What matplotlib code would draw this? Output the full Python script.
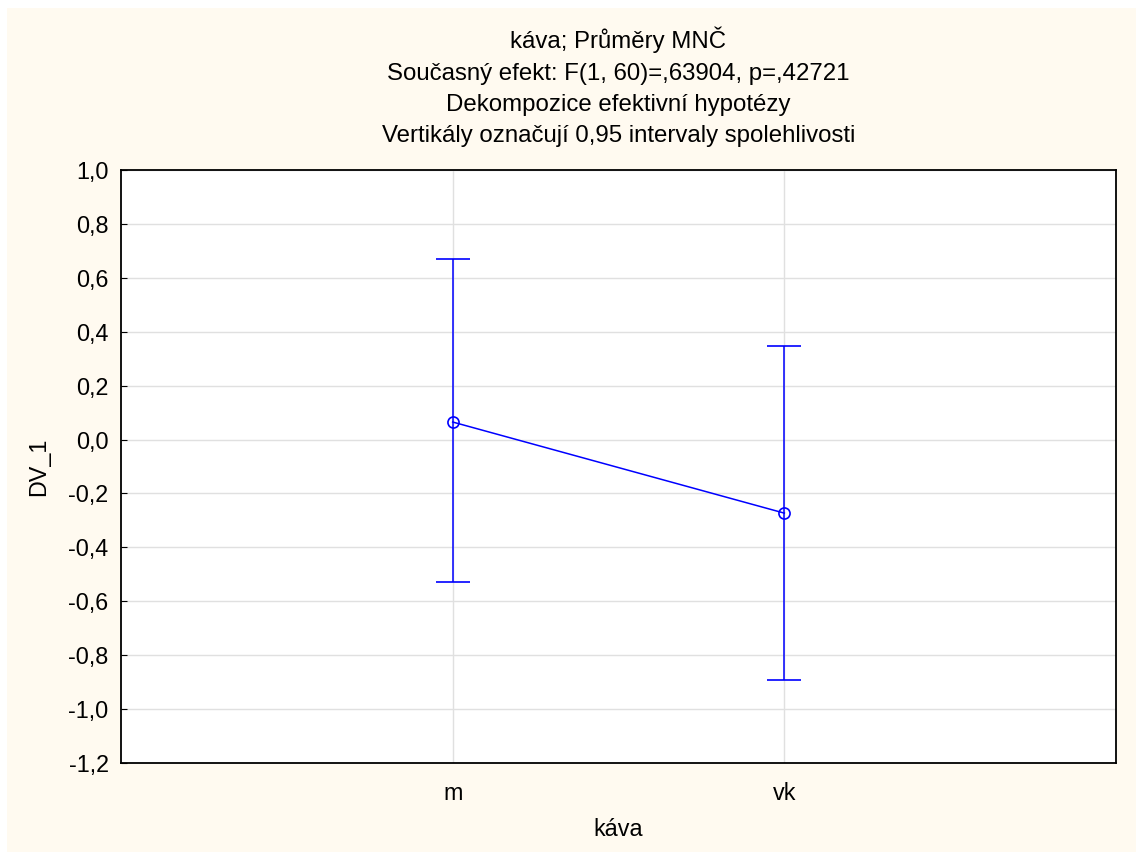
import matplotlib.pyplot as plt
from matplotlib.patches import Rectangle
from matplotlib.ticker import FuncFormatter, MultipleLocator

plt.rcParams['font.family'] = ['Liberation Sans', 'DejaVu Sans']

# data
kategorie = ['m', 'vk']
prumery = [0.065, -0.273]
horni = [0.670, 0.347]
dolni = [-0.529, -0.892]

nazev = ('káva; Průměry MNČ\n'
         'Současný efekt: F(1, 60)=,63904, p=,42721\n'
         'Dekompozice efektivní hypotézy\n'
         'Vertikály označují 0,95 intervaly spolehlivosti')

fig = plt.figure(figsize=(11.36, 8.52), dpi=100, facecolor='white')
fig.patches.append(Rectangle((7 / 1136, 0), 1, 1 - 8 / 852,
                             transform=fig.transFigure, facecolor='#fffaf0',
                             edgecolor='none', zorder=-10))
ax = fig.add_axes([121 / 1136, 1 - 763 / 852, 995 / 1136, 593 / 852])
ax.set_facecolor('white')

x = list(range(len(kategorie)))
chyba_dol = [p - d for p, d in zip(prumery, dolni)]
chyba_hor = [h - p for p, h in zip(prumery, horni)]
ax.errorbar(x, prumery, yerr=[chyba_dol, chyba_hor], color='#0000ff',
            linewidth=1.1, elinewidth=1.1, capsize=12, capthick=1.1,
            marker='o', markersize=8, markerfacecolor='none',
            markeredgecolor='#0000ff', markeredgewidth=1.2, zorder=3)

ax.set_xlim(-1, 2)
ax.set_ylim(-1.2, 1.0)
ax.set_xticks(x)
ax.set_xticklabels(kategorie)
ax.yaxis.set_major_locator(MultipleLocator(0.2))
ax.yaxis.set_major_formatter(FuncFormatter(lambda v, p: f'{v:.1f}'.replace('.', ',').replace('-0,0', '0,0')))

ax.grid(True, color='#e0e0e0', linewidth=1)
ax.set_axisbelow(True)
for s in ax.spines.values():
    s.set_linewidth(1.3)
ax.tick_params(axis='both', direction='in', length=4, labelsize=16.8, pad=9)
ax.tick_params(axis='x', length=0, pad=14)

ax.set_xlabel('káva', fontsize=16.8, labelpad=9)
ax.set_ylabel('DV_1', fontsize=16.8, labelpad=13)
ax.set_title(nazev, fontsize=17.3, linespacing=1.55, pad=20)

fig.savefig('out.png', dpi=100, facecolor=fig.get_facecolor())
